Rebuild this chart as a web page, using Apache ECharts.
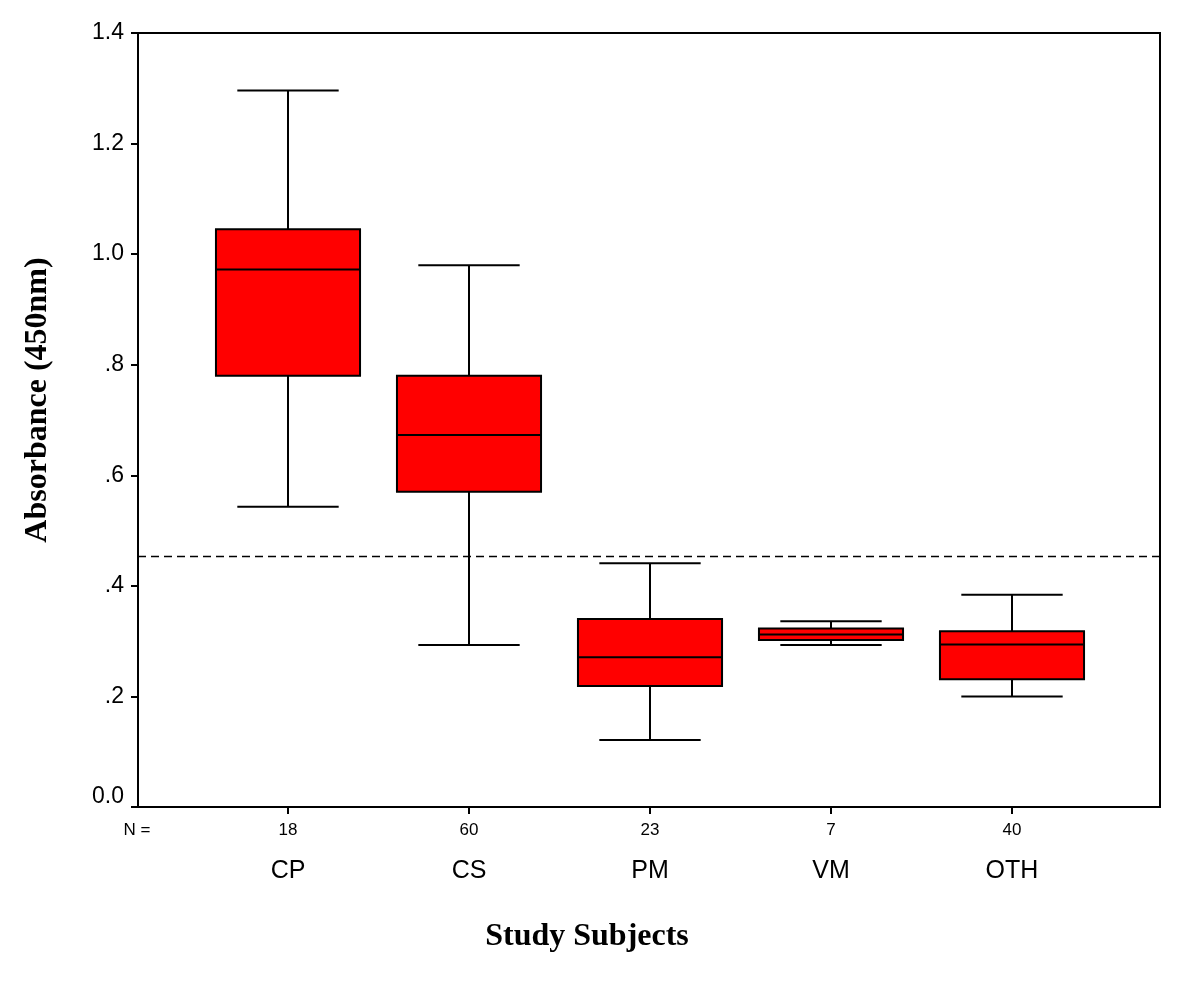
<!DOCTYPE html>
<html>
<head>
<meta charset="utf-8">
<script src="https://cdn.jsdelivr.net/npm/echarts@6/dist/echarts.min.js"></script>
<style>html,body{margin:0;padding:0;background:#fff}#c{width:1200px;height:995px}</style>
</head>
<body>
<div id="c"></div>
<script>
const CATEGORIES = ['CP', 'CS', 'PM', 'VM', 'OTH'];
const N_COUNTS = [18, 60, 23, 7, 40];
const LOWER_WHISKER = [0.543, 0.293, 0.121, 0.293, 0.200];
const Q1 = [0.780, 0.570, 0.219, 0.302, 0.231];
const MEDIAN = [0.972, 0.673, 0.271, 0.312, 0.294];
const Q3 = [1.045, 0.780, 0.340, 0.323, 0.318];
const UPPER_WHISKER = [1.296, 0.980, 0.441, 0.336, 0.384];
const CUTOFF = 0.453;
const Y_TICK_LABELS = {0: '0.0', 0.2: '.2', 0.4: '.4', 0.6: '.6', 0.8: '.8', 1: '1.0', 1.2: '1.2', 1.4: '1.4'};

const boxData = CATEGORIES.map((c, i) => [i, LOWER_WHISKER[i], Q1[i], MEDIAN[i], Q3[i], UPPER_WHISKER[i]]);

const chart = echarts.init(document.getElementById('c'));
const SANS = 'Liberation Sans, Arial, sans-serif';
const SERIF = 'Liberation Serif, Times New Roman, serif';

chart.setOption({
  animation: false,
  backgroundColor: '#fff',
  grid: [
    {left: 138, top: 33, width: 1022, height: 774, show: true, borderColor: '#000', borderWidth: 2, backgroundColor: 'transparent'},
    {left: 197.5, top: 33, width: 905, height: 774}
  ],
  xAxis: [
    {gridIndex: 0, type: 'value', min: 0, max: 1, show: false},
    {gridIndex: 1, type: 'category', data: CATEGORIES, boundaryGap: true,
     axisLine: {show: false},
     axisTick: {show: true, alignWithLabel: true, inside: false, length: 7, lineStyle: {color: '#000', width: 2}},
     axisLabel: {
       margin: 12,
       color: '#000',
       formatter: (v, idx) => '{n|' + N_COUNTS[idx] + '}\n{c|' + v + '}',
       rich: {
         n: {fontSize: 17, fontFamily: SANS, color: '#000', lineHeight: 22},
         c: {fontSize: 25, fontFamily: SANS, color: '#000', lineHeight: 60}
       }
     },
     splitLine: {show: false}
    }
  ],
  yAxis: [
    {gridIndex: 0, type: 'value', min: 0, max: 1.4, interval: 0.2,
     axisLine: {show: true, lineStyle: {color: '#000', width: 2}},
     axisTick: {show: true, inside: false, length: 7, lineStyle: {color: '#000', width: 2}},
     splitLine: {show: false},
     axisLabel: {
       margin: 14, color: '#000', fontSize: 23, fontFamily: SANS,
       formatter: v => {
         const key = Math.round(v * 10) / 10;
         const t = Y_TICK_LABELS[key] !== undefined ? Y_TICK_LABELS[key] : String(key);
         return key === 0 ? '{z|' + t + '}' : t;
       },
       rich: {z: {fontSize: 23, fontFamily: SANS, color: '#000', padding: [0, 0, 20, 0]}}
     }
    },
    {gridIndex: 1, type: 'value', min: 0, max: 1.4, show: false}
  ],
  series: [
    {
      type: 'line', xAxisIndex: 0, yAxisIndex: 0,
      data: [[0, CUTOFF], [1, CUTOFF]],
      symbol: 'none', silent: true,
      lineStyle: {color: '#000', width: 1.5, type: [8, 5]}
    },
    {
      type: 'custom', xAxisIndex: 1, yAxisIndex: 1,
      data: boxData,
      encode: {x: 0, y: [1, 2, 3, 4, 5]},
      renderItem: (params, api) => {
        const x = api.value(0);
        const lo = api.coord([x, api.value(1)]);
        const q1 = api.coord([x, api.value(2)]);
        const md = api.coord([x, api.value(3)]);
        const q3 = api.coord([x, api.value(4)]);
        const hi = api.coord([x, api.value(5)]);
        const band = api.size([1, 0])[0];
        const bw = band * 0.796, cw = band * 0.56;
        const cx = lo[0];
        const ls = {stroke: '#000', lineWidth: 2};
        return {
          type: 'group',
          children: [
            {type: 'line', shape: {x1: cx, y1: hi[1], x2: cx, y2: q3[1]}, style: ls},
            {type: 'line', shape: {x1: cx, y1: q1[1], x2: cx, y2: lo[1]}, style: ls},
            {type: 'line', shape: {x1: cx - cw / 2, y1: hi[1], x2: cx + cw / 2, y2: hi[1]}, style: ls},
            {type: 'line', shape: {x1: cx - cw / 2, y1: lo[1], x2: cx + cw / 2, y2: lo[1]}, style: ls},
            {type: 'rect', shape: {x: cx - bw / 2, y: q3[1], width: bw, height: q1[1] - q3[1]}, style: {fill: '#ff0000', stroke: '#000', lineWidth: 2}},
            {type: 'line', shape: {x1: cx - bw / 2, y1: md[1], x2: cx + bw / 2, y2: md[1]}, style: ls}
          ]
        };
      }
    }
  ],
  graphic: [
    {type: 'text', x: 137, y: 830, style: {text: 'N =', fontSize: 17, fontFamily: SANS, fill: '#000', textAlign: 'center', textVerticalAlign: 'middle'}},
    {type: 'text', x: 38, y: 400, rotation: Math.PI / 2, style: {text: 'Absorbance (450nm)', fontSize: 32, fontWeight: 'bold', fontFamily: SERIF, fill: '#000', textAlign: 'center', textVerticalAlign: 'middle'}},
    {type: 'text', x: 587, y: 937, style: {text: 'Study Subjects', fontSize: 32, fontWeight: 'bold', fontFamily: SERIF, fill: '#000', textAlign: 'center', textVerticalAlign: 'middle'}}
  ]
});
</script>
</body>
</html>
